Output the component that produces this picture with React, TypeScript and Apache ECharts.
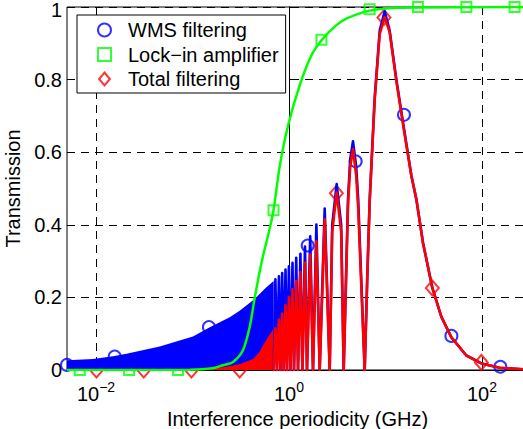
import React, { useEffect, useRef } from 'react';
import * as echarts from 'echarts';

// ---------- axis ranges / ticks ----------
const X_MIN = 0.005; // GHz
const X_MAX = 300; // GHz
const xTickExponents = [-2, 0, 2];
const yTicks = [0, 0.2, 0.4, 0.6, 0.8, 1];

// ---------- markers (legend series) ----------
const wmsMarkX = [0.005, 0.0156, 0.148, 1.563, 4.91, 15.55, 48.2, 155.1];
const wmsMarkY = [0.014, 0.037, 0.118, 0.343, 0.575, 0.703, 0.094, 0.009];

const lockMarkX = [0.00678, 0.022, 0.0708, 0.691, 2.167, 6.86, 21.7, 68.9, 218];
const lockMarkY = [0, 0, 0, 0.44, 0.91, 0.994, 1.0, 1.0, 1.0];

const totalMarkX = [0.0101, 0.0312, 0.0975, 0.308, 3.1, 9.65, 30.6, 98.6];
const totalMarkY = [0, 0, 0, 0, 0.487, 0.971, 0.226, 0.021];

// ---------- lock-in amplifier curve ----------
const lockX = [0.005, 0.094, 0.163, 0.207, 0.263, 0.334, 0.392, 0.442, 0.518, 0.631, 0.691, 0.802, 0.977, 1.29, 1.71, 2.22, 3.1, 3.93, 6.84, 14.0, 300];
const lockY = [0, 0.001, 0.005, 0.013, 0.022, 0.055, 0.12, 0.2, 0.295, 0.39, 0.44, 0.562, 0.673, 0.784, 0.867, 0.911, 0.95, 0.968, 0.99, 0.998, 1.0];

// ---------- dense oscillation region (upper envelope, filled to 0) ----------
const wmsDenseX = [0.005, 0.0093, 0.015, 0.0207, 0.0457, 0.101, 0.151, 0.243, 0.308, 0.424, 0.583, 0.694];
const wmsDenseY = [0.027, 0.03, 0.038, 0.045, 0.065, 0.092, 0.118, 0.145, 0.163, 0.192, 0.228, 0.245];

const totalDenseX = [0.119, 0.162, 0.216, 0.308, 0.424, 0.497, 0.538, 0.606, 0.694];
const totalDenseY = [0, 0.004, 0.008, 0.016, 0.03, 0.05, 0.068, 0.09, 0.115];

// ---------- resolved fringes + main lobe (vertices) ----------
const fringeX = [
  0.694, 0.723, 0.751, 0.786, 0.815, 0.85, 0.881, 0.92, 0.953, 0.998, 1.034, 1.087,
  1.127, 1.188, 1.24, 1.313, 1.377, 1.465, 1.536, 1.659, 1.773, 1.922, 2.08, 2.344,
  2.641, 2.804, 3.121, 3.475, 3.688, 4.088, 4.307, 4.606, 4.971, 5.213, 6.088,
  6.462, 6.86, 7.729, 8.709, 9.81, 11.05, 12.97, 15.44, 18.55, 20.9, 24.5, 30.6,
  37.9, 48.2, 68.9, 98.6, 152.6, 300,
];
const wmsFringeY = [
  0, 0.25, 0, 0.258, 0, 0.267, 0, 0.277, 0, 0.286, 0, 0.295,
  0, 0.309, 0, 0.32, 0, 0.34, 0, 0.368, 0, 0.401, 0, 0.445,
  0, 0.4, 0.512, 0.4, 0, 0.47, 0.58, 0.63, 0.56, 0.47, 0,
  0.25, 0.47, 0.75, 0.935, 0.988, 0.935, 0.8, 0.67, 0.535, 0.47, 0.35, 0.226,
  0.147, 0.09, 0.04, 0.018, 0.006, 0.001,
];
const totalFringeY = [
  0, 0.115, 0, 0.138, 0, 0.155, 0, 0.178, 0, 0.2, 0, 0.222,
  0, 0.245, 0, 0.27, 0, 0.295, 0, 0.318, 0, 0.355, 0, 0.415,
  0, 0.38, 0.489, 0.38, 0, 0.455, 0.56, 0.608, 0.535, 0.445, 0,
  0.245, 0.465, 0.745, 0.925, 0.972, 0.93, 0.795, 0.665, 0.535, 0.47, 0.35, 0.226,
  0.147, 0.09, 0.04, 0.018, 0.006, 0.001,
];

const BLUE = '#0000ff';
const GREEN = '#00ff00';
const RED = '#ff0000';
const FONT = "'Liberation Sans', Arial, Helvetica, sans-serif";
const DIAMOND = 'path://M0,-9L7.5,0L0,9L-7.5,0Z';

const pts = (xs: number[], ys: number[]) => xs.map((x, i) => [Math.log10(x), ys[i]]);

export default function App() {
  const ref = useRef<HTMLDivElement>(null);

  useEffect(() => {
    if (!ref.current) return;
    const chart = echarts.init(ref.current, undefined, { renderer: 'svg' });

    const lineBase = {
      type: 'line' as const,
      symbol: 'none',
      silent: true,
      emphasis: { disabled: true },
      animation: false,
    };

    const yMax = yTicks[yTicks.length - 1];

    chart.setOption({
      animation: false,
      textStyle: { fontFamily: FONT },
      grid: {
        left: 67,
        top: 7,
        right: -5,
        bottom: 59,
        show: true,
        borderColor: '#000',
        borderWidth: 1,
        backgroundColor: 'transparent',
        containLabel: false,
        outerBoundsMode: 'none',
      },
      legend: {
        orient: 'vertical',
        left: 77,
        top: 15,
        backgroundColor: '#fff',
        borderColor: '#000',
        borderWidth: 1,
        borderRadius: 0,
        padding: [5, 7, 4, 20],
        itemWidth: 13,
        itemHeight: 13,
        itemGap: 4.5,
        symbolKeepAspect: true,
        selectedMode: false,
        textStyle: { fontSize: 20, color: '#000', fontFamily: FONT, padding: [0, 0, 0, 12] },
        data: [
          { name: 'WMS filtering', icon: 'circle', itemStyle: { color: 'rgba(0,0,0,0)', borderColor: BLUE, borderWidth: 2 } },
          { name: 'Lock\u2212in amplifier', icon: 'rect', itemStyle: { color: 'rgba(0,0,0,0)', borderColor: GREEN, borderWidth: 2 } },
          { name: 'Total filtering', icon: DIAMOND, itemStyle: { color: 'rgba(0,0,0,0)', borderColor: RED, borderWidth: 2 } },
        ],
      },
      xAxis: {
        type: 'value',
        min: Math.log10(X_MIN),
        max: Math.log10(X_MAX),
        name: 'Interference periodicity (GHz)',
        nameLocation: 'middle',
        nameGap: 34,
        nameTextStyle: { fontSize: 20, color: '#000', fontFamily: FONT },
        axisLine: { show: true, lineStyle: { color: '#000', width: 1 } },
        axisTick: { show: true, inside: true, length: 5, customValues: xTickExponents, lineStyle: { color: '#000' } },
        axisLabel: {
          customValues: xTickExponents,
          margin: 10,
          formatter: (v: number) => `{b|10}{s|${v < 0 ? '\u2212' : ''}${Math.abs(v)}}`,
          rich: {
            b: { fontSize: 20, color: '#000', fontFamily: FONT, padding: [4, 0, 0, 0], verticalAlign: 'bottom' },
            s: { fontSize: 14, color: '#000', fontFamily: FONT, verticalAlign: 'top' },
          },
        },
        splitLine: { show: true, lineStyle: { color: '#000', width: 1, type: [8, 6] } },
      },
      yAxis: {
        type: 'value',
        min: yTicks[0],
        max: yMax,
        interval: yTicks[1] - yTicks[0],
        name: 'Transmission',
        nameLocation: 'middle',
        nameGap: 38,
        nameTextStyle: { fontSize: 20, color: '#000', fontFamily: FONT },
        axisLine: { show: true, lineStyle: { color: '#000', width: 1 } },
        axisTick: { show: true, inside: true, length: 5, lineStyle: { color: '#000' } },
        axisLabel: {
          color: '#000',
          margin: 5,
          formatter: (v: number) => (v === yMax ? `{t|${v}}` : `{n|${v}}`),
          rich: {
            n: { fontSize: 20, lineHeight: 16, color: '#000', fontFamily: FONT },
            t: { fontSize: 20, lineHeight: 16, color: '#000', fontFamily: FONT, padding: [5, 0, 0, 0] },
          },
        },
        splitLine: { show: true, lineStyle: { color: '#000', width: 1, type: [8, 6] } },
      },
      series: [
        {
          name: 'WMS filtering',
          type: 'scatter',
          data: pts(wmsMarkX, wmsMarkY),
          symbol: 'circle',
          symbolSize: 12,
          clip: false,
          silent: true,
          z: 1,
          itemStyle: { color: 'rgba(0,0,0,0)', borderColor: BLUE, borderWidth: 2 },
        },
        {
          name: 'Lock\u2212in amplifier',
          type: 'scatter',
          data: pts(lockMarkX, lockMarkY),
          symbol: 'rect',
          symbolSize: 10,
          clip: false,
          silent: true,
          z: 1,
          itemStyle: { color: 'rgba(0,0,0,0)', borderColor: GREEN, borderWidth: 2 },
        },
        {
          name: 'Total filtering',
          type: 'scatter',
          data: pts(totalMarkX, totalMarkY),
          symbol: 'diamond',
          symbolSize: [13, 15],
          clip: false,
          silent: true,
          z: 1,
          itemStyle: { color: 'rgba(0,0,0,0)', borderColor: RED, borderWidth: 2 },
        },
        {
          ...lineBase,
          name: 'wms-dense',
          data: pts(wmsDenseX, wmsDenseY),
          z: 2,
          lineStyle: { width: 0, color: BLUE },
          areaStyle: { color: BLUE, opacity: 1 },
        },
        {
          ...lineBase,
          name: 'total-dense',
          data: pts(totalDenseX, totalDenseY),
          z: 2,
          lineStyle: { width: 0, color: RED },
          areaStyle: { color: RED, opacity: 1 },
        },
        {
          ...lineBase,
          name: 'wms-fringes',
          data: pts(fringeX, wmsFringeY),
          z: 2,
          lineStyle: { width: 2.6, color: BLUE, join: 'round', cap: 'round' },
        },
        {
          ...lineBase,
          name: 'total-fringes',
          data: pts(fringeX, totalFringeY),
          z: 2,
          lineStyle: { width: 2.6, color: RED, join: 'round', cap: 'round' },
        },
        {
          ...lineBase,
          name: 'lock-curve',
          data: pts(lockX, lockY),
          smooth: 0.3,
          z: 2,
          lineStyle: { width: 2.5, color: GREEN },
        },
      ],
    });

    return () => chart.dispose();
  }, []);

  return (
    <div
      ref={ref}
      style={{ position: 'fixed', left: 0, top: 0, width: 523, height: 429, background: '#fff' }}
    />
  );
}
